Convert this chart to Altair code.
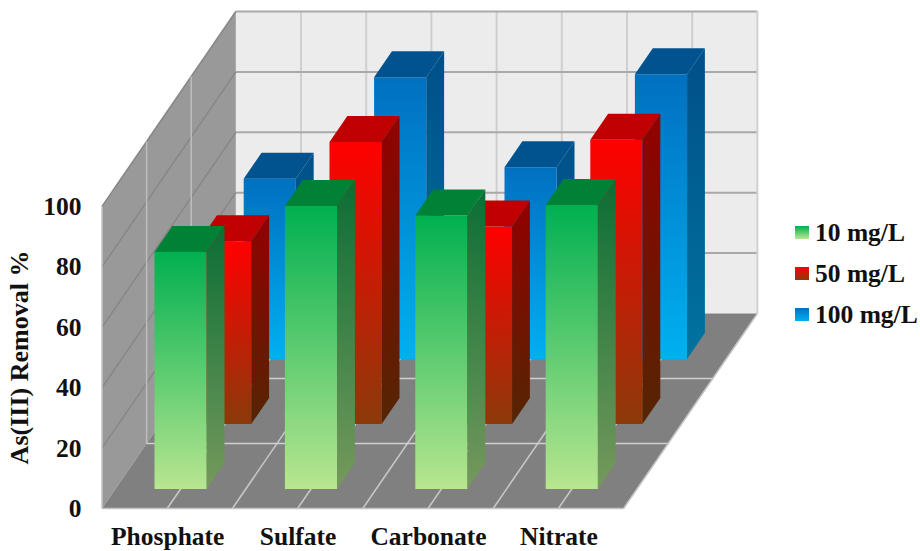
import altair as alt
import pandas as pd

# Removal percentages per anion, one list per concentration
categories = ["Phosphate", "Sulfate", "Carbonate", "Nitrate"]
series_names = ["10 mg/L", "50 mg/L", "100 mg/L"]
removal_10 = [78.5, 93.7, 90.6, 94.0]
removal_50 = [60.5, 93.4, 65.4, 94.1]
removal_100 = [59.7, 93.3, 63.5, 94.3]
value_ticks = [0, 20, 40, 60, 80, 100]

# Oblique projection: one step back in depth moves right and up
SHEAR_X = 44.6 / 130.4
SHEAR_Y = 65.0 / 3.02
BAR_START, BAR_END = 0.3, 0.7
N_SERIES = 3
N_CATS = len(categories)

# Plot area in pixels and the data units it spans
PAD_LEFT = 90
PLOT_W, PLOT_H = 830, 551
PX_X, PX_Y = 130.4, 3.02
X_DOMAIN = [-12 / PX_X, (PLOT_W - 12) / PX_X]
Y_DOMAIN = [-42.5 / PX_Y, 508.5 / PX_Y]
TEXT_FONT = "Liberation Serif"
TEXT_COLOR = "#111111"
TEXT_SIZE = 25.5


def px(c, d):
    return c + d * SHEAR_X


def py(v, d):
    return v + d * SHEAR_Y


x_scale = alt.Scale(domain=X_DOMAIN, nice=False, zero=False)
y_scale = alt.Scale(domain=Y_DOMAIN, nice=False, zero=False)
X = alt.X("x:Q", scale=x_scale, axis=None)
Y = alt.Y("y:Q", scale=y_scale, axis=None, stack=None)
Y2 = alt.Y2("y2:Q")


def gradient(top, bottom):
    return alt.Gradient(
        gradient="linear",
        stops=[
            alt.GradientStop(offset=0, color=top),
            alt.GradientStop(offset=1, color=bottom),
        ],
        x1=0, x2=0, y1=0, y2=1,
    )


def area_layer(rows, fill):
    return alt.Chart(pd.DataFrame(rows)).mark_area(
        orient="vertical", fill=fill, opacity=1
    ).encode(x=X, y=Y, y2=Y2, detail="id:N")


def line_layer(segments, color, width):
    rows = []
    for i, (a, b) in enumerate(segments):
        rows.append({"x": a[0], "y": a[1], "id": i, "k": 0})
        rows.append({"x": b[0], "y": b[1], "id": i, "k": 1})
    return alt.Chart(pd.DataFrame(rows)).mark_line(
        color=color, strokeWidth=width, interpolate="linear"
    ).encode(x=X, y=Y, detail="id:N", order="k:Q")


# Chart box: back wall, left wall and floor
D = N_SERIES
back_wall = alt.Chart(pd.DataFrame([
    {"x": px(0, D), "x2": px(N_CATS, D), "y": py(100, D), "y2": py(0, D)}
])).mark_rect(color="#ececec").encode(x=X, x2="x2:Q", y=Y, y2=Y2)

left_wall = area_layer([
    {"x": px(0, 0), "y": py(100, 0), "y2": py(0, 0), "id": 0},
    {"x": px(0, D), "y": py(100, D), "y2": py(0, D), "id": 0},
], "#999999")

floor = area_layer([
    {"x": px(0, 0), "y": py(0, 0), "y2": py(0, 0), "id": 0},
    {"x": px(0, D), "y": py(0, D), "y2": py(0, 0), "id": 0},
    {"x": px(N_CATS, 0), "y": py(0, D), "y2": py(0, 0), "id": 0},
    {"x": px(N_CATS, D), "y": py(0, D), "y2": py(0, D), "id": 0},
], "#808080")

half_steps = [0.5 * k for k in range(1, 2 * N_CATS)]

# Axes live on an otherwise empty layer
axes = alt.Chart(pd.DataFrame([{"x": 0, "y": 0}])).mark_point(opacity=0).encode(
    x=alt.X("x:Q", scale=x_scale, axis=alt.Axis(
        values=[k + 0.5 for k in range(N_CATS)],
        labelExpr="['Phosphate','Sulfate','Carbonate','Nitrate'][floor(datum.value)]",
        domain=False, ticks=False, grid=False, title=None, offset=-27,
        labelFont=TEXT_FONT, labelFontWeight="bold", labelFontSize=TEXT_SIZE,
        labelColor=TEXT_COLOR, labelOverlap=False, labelPadding=0,
    )),
    y=alt.Y("y:Q", scale=y_scale, axis=alt.Axis(
        values=value_ticks, domain=False, ticks=False, grid=False,
        title="As(III) Removal %", titleFont=TEXT_FONT,
        titleFontWeight="bold", titleFontSize=26, titleColor=TEXT_COLOR,
        titleX=-58, titleY=357, titleAngle=-90,
        labelFont=TEXT_FONT, labelFontWeight="bold", labelFontSize=TEXT_SIZE,
        labelColor=TEXT_COLOR, labelPadding=9, labelOffset=0,
    )),
)

grid = [
    line_layer([((px(c, D), py(0, D)), (px(c, D), py(100, D))) for c in half_steps], "#cfcfcf", 2),
    line_layer([((px(0, D), py(v, D)), (px(N_CATS, D), py(v, D))) for v in value_ticks[1:]], "#a9a9a9", 2),
    line_layer([((px(N_CATS, D), py(0, D)), (px(N_CATS, D), py(100, D)))], "#d0d0d0", 2),
    line_layer([((px(0, 0), py(v, 0)), (px(0, D), py(v, D))) for v in value_ticks[1:]], "#878787", 1.5),
    line_layer([((px(0, d), py(0, d)), (px(0, d), py(100, d))) for d in (1, 2)], "#bdbdbd", 1.5),
    line_layer([((px(c, 0), py(0, 0)), (px(c, D), py(0, D))) for c in half_steps], "#c8c8c8", 1.5),
    line_layer([((px(0, d), py(0, d)), (px(N_CATS, d), py(0, d))) for d in (1, 2)], "#d0d0d0", 1.5),
    line_layer([
        ((px(0, 0), py(0, 0)), (px(N_CATS, 0), py(0, 0))),
        ((px(N_CATS, 0), py(0, 0)), (px(N_CATS, D), py(0, D))),
        ((px(0, 0), py(0, 0)), (px(0, 0), py(100, 0))),
    ], "#c4c4c4", 1.5),
]

# Face shading per series: front gradient, side gradient, top colour
styles = {
    "10 mg/L": (("#00b050", "#b8e690"), ("#0a6e35", "#76995c"), "#008236"),
    "50 mg/L": (("#ff0000", "#8b3a0a"), ("#930000", "#542503"), "#c00000"),
    "100 mg/L": (("#0070c0", "#00b0f0"), ("#004f88", "#0073a0"), "#00538f"),
}
series_values = {"10 mg/L": removal_10, "50 mg/L": removal_50, "100 mg/L": removal_100}


def bars_for(slot, name):
    values = series_values[name]
    d0, d1 = slot + BAR_START, slot + BAR_END
    front, side, top = [], [], []
    for i, v in enumerate(values):
        c0, c1 = i + BAR_START, i + BAR_END
        front.append({"x": px(c0, d0), "x2": px(c1, d0), "y": py(v, d0), "y2": py(0, d0)})
        side += [
            {"x": px(c1, d0), "y": py(v, d0), "y2": py(0, d0), "id": i},
            {"x": px(c1, d1), "y": py(v, d1), "y2": py(0, d1), "id": i},
        ]
        top += [
            {"x": px(c0, d0), "y": py(v, d0), "y2": py(v, d0), "id": i},
            {"x": px(c0, d1), "y": py(v, d1), "y2": py(v, d0), "id": i},
            {"x": px(c1, d0), "y": py(v, d1), "y2": py(v, d0), "id": i},
            {"x": px(c1, d1), "y": py(v, d1), "y2": py(v, d1), "id": i},
        ]
    front_grad, side_grad, top_color = styles[name]
    return [
        alt.Chart(pd.DataFrame(front)).mark_rect(color=gradient(*front_grad)).encode(
            x=X, x2="x2:Q", y=Y, y2=Y2
        ),
        area_layer(side, gradient(*side_grad)),
        area_layer(top, top_color),
    ]


# Painted back to front so nearer rows cover farther ones
bar_layers = []
for slot in range(N_SERIES - 1, -1, -1):
    bar_layers += bars_for(slot, series_names[slot])

# Legend swatches and labels
LEGEND_X = 705
LEGEND_Y = [226, 267, 308]
legend_layers = []
for name, y0 in zip(series_names, LEGEND_Y):
    swatch = alt.Chart(pd.DataFrame([{"n": name}])).mark_rect(
        color=gradient(styles[name][0][0], styles[name][0][1])
    ).encode(
        x=alt.value(LEGEND_X), x2=alt.value(LEGEND_X + 14),
        y=alt.value(y0), y2=alt.value(y0 + 13),
    )
    label = alt.Chart(pd.DataFrame([{"n": name}])).mark_text(
        align="left", baseline="middle", font=TEXT_FONT,
        fontWeight="bold", fontSize=TEXT_SIZE, color=TEXT_COLOR,
    ).encode(x=alt.value(LEGEND_X + 20), y=alt.value(y0 + 7), text="n:N")
    legend_layers += [swatch, label]

chart = alt.layer(
    axes, back_wall, left_wall, floor, *grid, *bar_layers, *legend_layers
).resolve_axis(x="independent", y="independent").properties(
    width=PLOT_W,
    height=PLOT_H,
    autosize=alt.AutoSizeParams(type="none"),
    padding={"left": PAD_LEFT, "right": 0, "top": 0, "bottom": 0},
    background="white",
).configure_view(stroke=None)

chart.save("out.html", embed_options={"renderer": "svg", "actions": False})
